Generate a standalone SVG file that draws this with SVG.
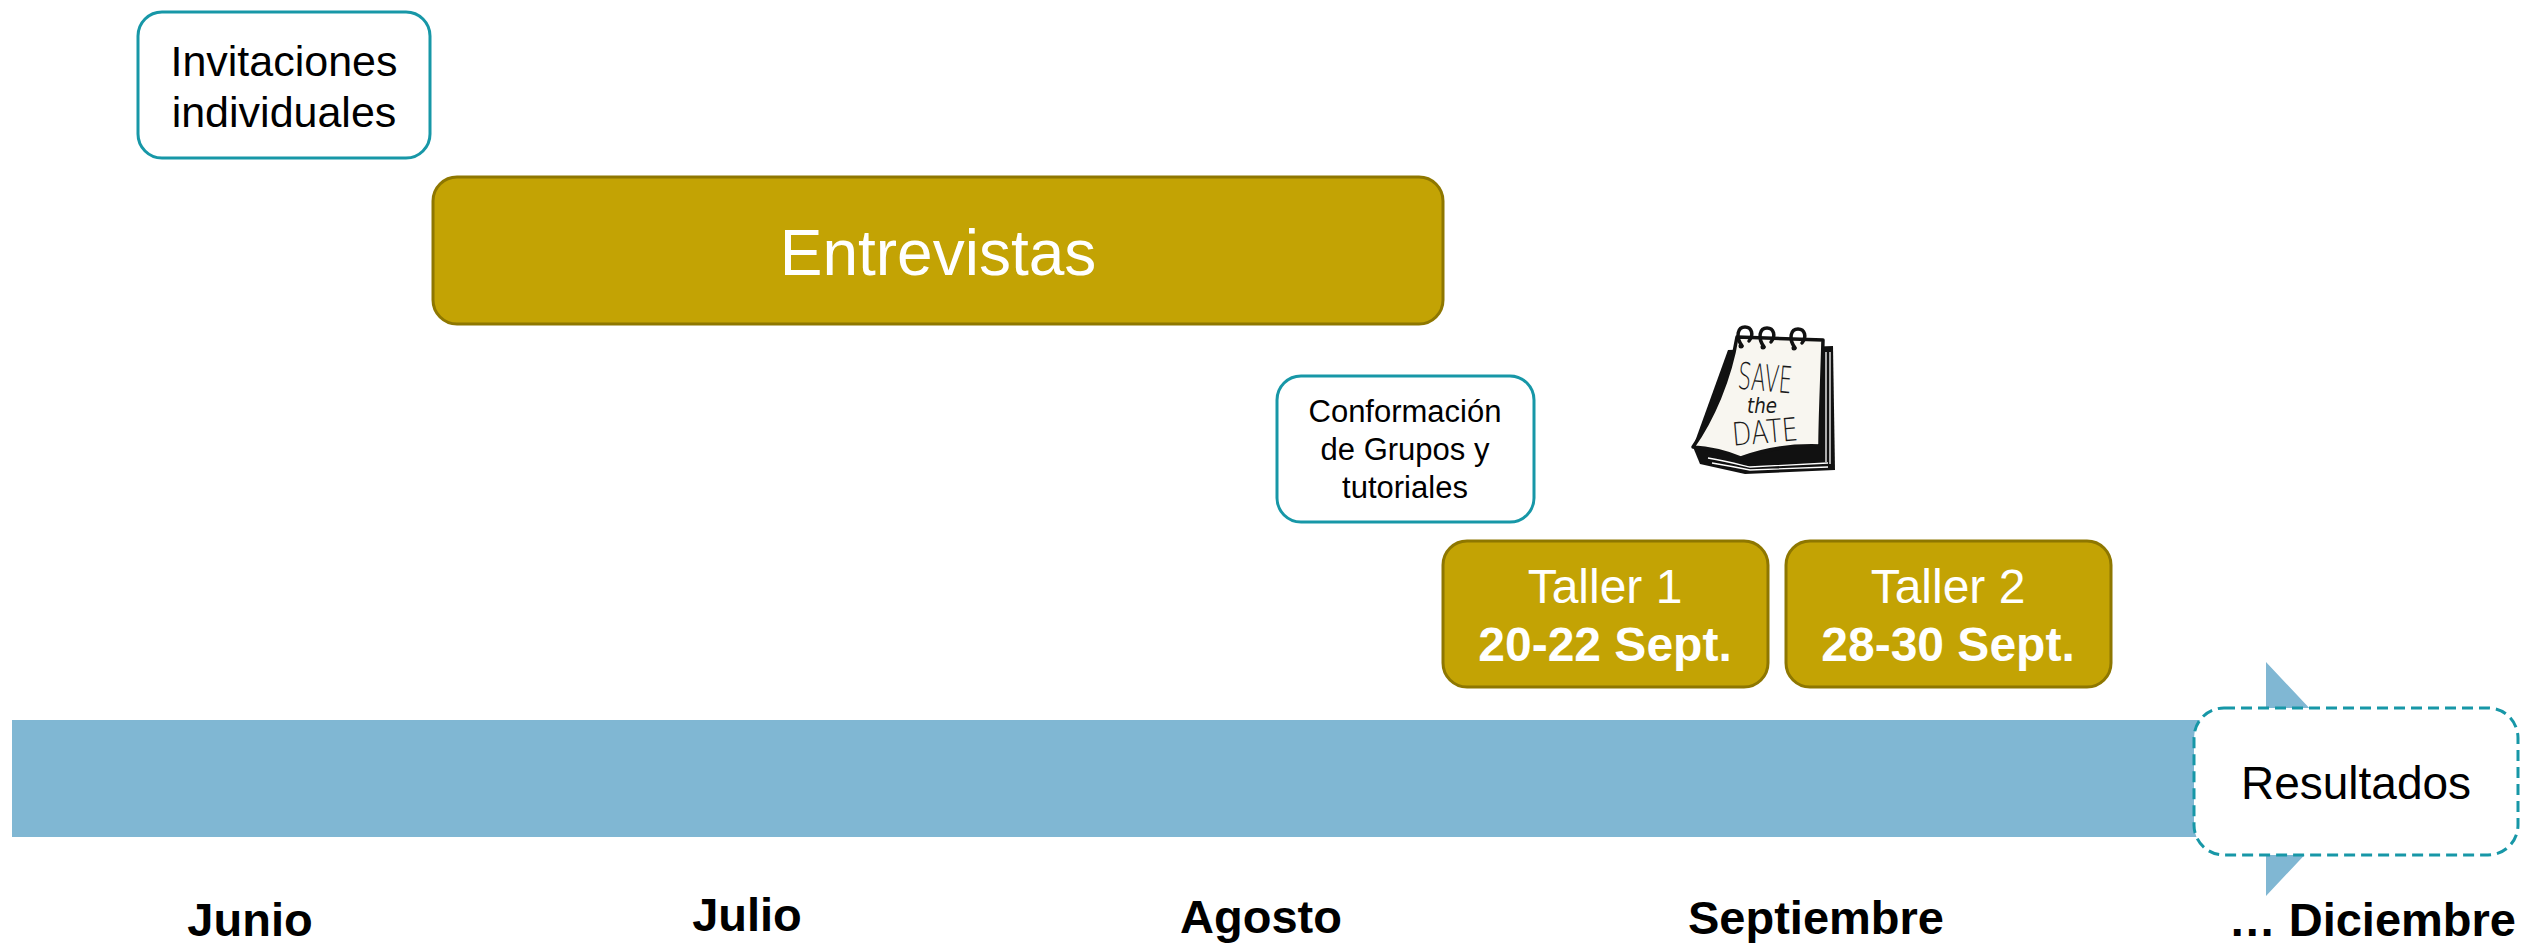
<svg xmlns="http://www.w3.org/2000/svg" width="2524" height="943" viewBox="0 0 2524 943">
<style>
.txt{font-family:"Liberation Sans",Arial,sans-serif;text-anchor:middle}
.teal{fill:#ffffff;stroke:#1797A7;stroke-width:3}
.gold{fill:#C3A304;stroke:#8E7700;stroke-width:3}
.month{font-family:"Liberation Sans",Arial,sans-serif;font-weight:bold;font-size:47px;fill:#000;text-anchor:middle}
.hand{font-family:"DejaVu Sans","Liberation Sans",sans-serif;font-weight:200;fill:#1a1a1a;text-anchor:middle}
</style>
<rect width="2524" height="943" fill="#ffffff"/>
<g id="connectors">
<path id="timeline" d="M12,720 H2266 V662 L2376,779 L2266,896 V837 H12 Z" fill="#80B7D3"/>
</g>
<g id="invitaciones">
<rect class="teal" x="138" y="12" width="292" height="146" rx="24"/>
<text class="txt" x="284" y="76" font-size="43">Invitaciones</text>
<text class="txt" x="284" y="127" font-size="43">individuales</text>
</g>
<g id="entrevistas">
<rect class="gold" x="433" y="177" width="1010" height="147" rx="24"/>
<text class="txt" x="938" y="275" font-size="64" fill="#ffffff">Entrevistas</text>
</g>
<g id="conformacion">
<rect class="teal" x="1277" y="376" width="257" height="146" rx="24"/>
<text class="txt" x="1405" y="422" font-size="31">Conformación</text>
<text class="txt" x="1405" y="460" font-size="31">de Grupos y</text>
<text class="txt" x="1405" y="498" font-size="31">tutoriales</text>
</g>
<g id="save-the-date">
<path d="M1728,350 L1833,346 L1835,470 L1745,474 L1700,464 L1693,447 Z" fill="#111"/>
<path d="M1826,352 V462 M1830,352 V464 M1708,458 C1730,462 1745,466 1750,467 L1828,463 M1712,463 C1730,466 1745,469 1750,470 L1828,467" stroke="#ffffff" stroke-width="1.3" fill="none"/>
<path d="M1737,337 L1823,340 C1822,380 1820,420 1820,446 C1790,445 1762,450 1741,458 C1726,452 1710,448 1693,447 C1712,420 1730,380 1737,337 Z" fill="#f8f6f0" stroke="#111" stroke-width="3.5" stroke-linejoin="round"/>
<g fill="none" stroke="#111" stroke-width="3.5" stroke-linecap="round">
<path d="M1742,346 C1735,336 1738,327 1745,327 C1752,327 1754,335 1749,341"/>
<path d="M1764,347 C1757,337 1760,328 1767,328 C1774,328 1776,336 1771,342"/>
<path d="M1795,348 C1788,338 1791,329 1798,329 C1805,329 1807,337 1802,343"/>
</g>
<circle cx="1741" cy="346" r="2.5" fill="#111"/>
<circle cx="1763" cy="347" r="2.5" fill="#111"/>
<circle cx="1794" cy="348" r="2.5" fill="#111"/>
<text class="hand" x="1765" y="391" font-size="37" textLength="54" lengthAdjust="spacingAndGlyphs" transform="rotate(5 1765 378)">SAVE</text>
<text class="hand" x="1762" y="413" font-size="22" font-style="italic" textLength="30" lengthAdjust="spacingAndGlyphs">the</text>
<text class="hand" x="1765" y="443" font-size="32" textLength="66" lengthAdjust="spacingAndGlyphs" transform="rotate(-5 1765 432)">DATE</text>
</g>
<g id="taller1">
<rect class="gold" x="1443" y="541" width="325" height="146" rx="24"/>
<text class="txt" x="1605" y="603" font-size="48" fill="#ffffff">Taller 1</text>
<text class="txt" x="1605" y="661" font-size="48" font-weight="bold" fill="#ffffff">20-22 Sept.</text>
</g>
<g id="taller2">
<rect class="gold" x="1786" y="541" width="325" height="146" rx="24"/>
<text class="txt" x="1948" y="603" font-size="48" fill="#ffffff">Taller 2</text>
<text class="txt" x="1948" y="661" font-size="48" font-weight="bold" fill="#ffffff">28-30 Sept.</text>
</g>
<g id="resultados">
<rect x="2194" y="708" width="324" height="147" rx="30" fill="#ffffff" stroke="#1797A7" stroke-width="3" stroke-dasharray="11 6"/>
<text class="txt" x="2356" y="799" font-size="46">Resultados</text>
</g>
<g id="months">
<text class="month" x="250" y="936">Junio</text>
<text class="month" x="747" y="931">Julio</text>
<text class="month" x="1261" y="933">Agosto</text>
<text class="month" x="1816" y="934">Septiembre</text>
<text class="month" x="2516" y="936" style="text-anchor:end">… Diciembre</text>
</g>
</svg>
